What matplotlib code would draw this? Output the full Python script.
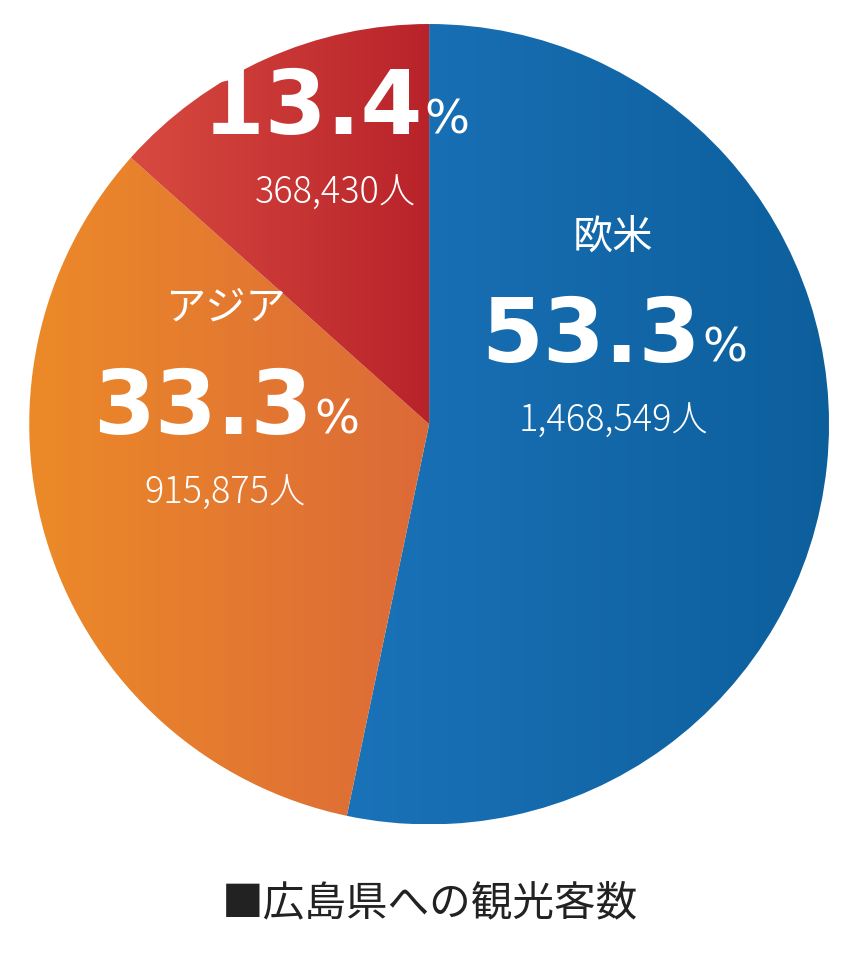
import matplotlib
matplotlib.use("Agg")
import matplotlib.pyplot as plt
import numpy as np
from matplotlib.colors import LinearSegmentedColormap

plt.rcParams['font.family'] = ['Noto Sans CJK JP', 'DejaVu Sans']

labels = ['欧米', 'アジア', 'その他']
shares = [53.3, 33.3, 13.4]
counts = ['1,468,549人', '915,875人', '368,430人']
grad_colors = [('#1a72b8', '#0d5f9c'), ('#ec8a28', '#dc6a38'), ('#d84a40', '#b8232a')]
# text anchor positions in data units (pie radius = 1)
text_pos = [(0.46, 0.22), (-0.51, 0.04), (-0.235, 0.79)]

fig = plt.figure(figsize=(8.6, 9.62), dpi=100)
ax = fig.add_axes([0.034, 0.142, 0.93, 0.832])

wedges, _ = ax.pie(shares, startangle=90, counterclock=False, radius=1,
                   wedgeprops=dict(linewidth=0))
for w, (c0, c1) in zip(wedges, grad_colors):
    w.set_facecolor('none')
    cmap = LinearSegmentedColormap.from_list('g', [c0, c1])
    bb = w.get_path().get_extents()
    im = ax.imshow(np.linspace(0, 1, 256).reshape(1, -1), cmap=cmap,
                   extent=[bb.x0, bb.x1, -1, 1], aspect='auto', zorder=1)
    im.set_clip_path(w)
ax.set_xlim(-1, 1)
ax.set_ylim(-1, 1)
ax.set_aspect('auto')
ax.axis('off')

fig.canvas.draw()
r = fig.canvas.get_renderer()
for lab, s, cnt, (x, y) in zip(labels, shares, counts, text_pos):
    ax.text(x, y + 0.25, lab, ha='center', va='center', fontsize=29,
            color='white', zorder=5)
    num = ax.text(x, y, f'{s:.1f}', ha='center', va='center', fontsize=64,
                  fontweight='bold', color='white', zorder=5, family='DejaVu Sans')
    pct = ax.text(x, y - 0.03, '%', ha='left', va='center', fontsize=34,
                  color='white', zorder=5, family='DejaVu Sans')
    wn = num.get_window_extent(r).width
    wp = pct.get_window_extent(r).width
    inv = ax.transData.inverted()
    px = ax.transData.transform((x, y))[0]
    left = px - (wn + wp) / 2
    num.set_position((inv.transform((left + wn / 2, 0))[0], y))
    pct.set_position((inv.transform((left + wn + 2, 0))[0], y - 0.03))
    ax.text(x, y - 0.21, cnt, ha='center', va='center', fontsize=26,
            fontweight='light', color='white', zorder=5)

fig.text(0.5, 0.06, '■広島県への観光客数', ha='center', va='center',
         fontsize=30, color='#222222')

fig.savefig('out.png', dpi=100)
